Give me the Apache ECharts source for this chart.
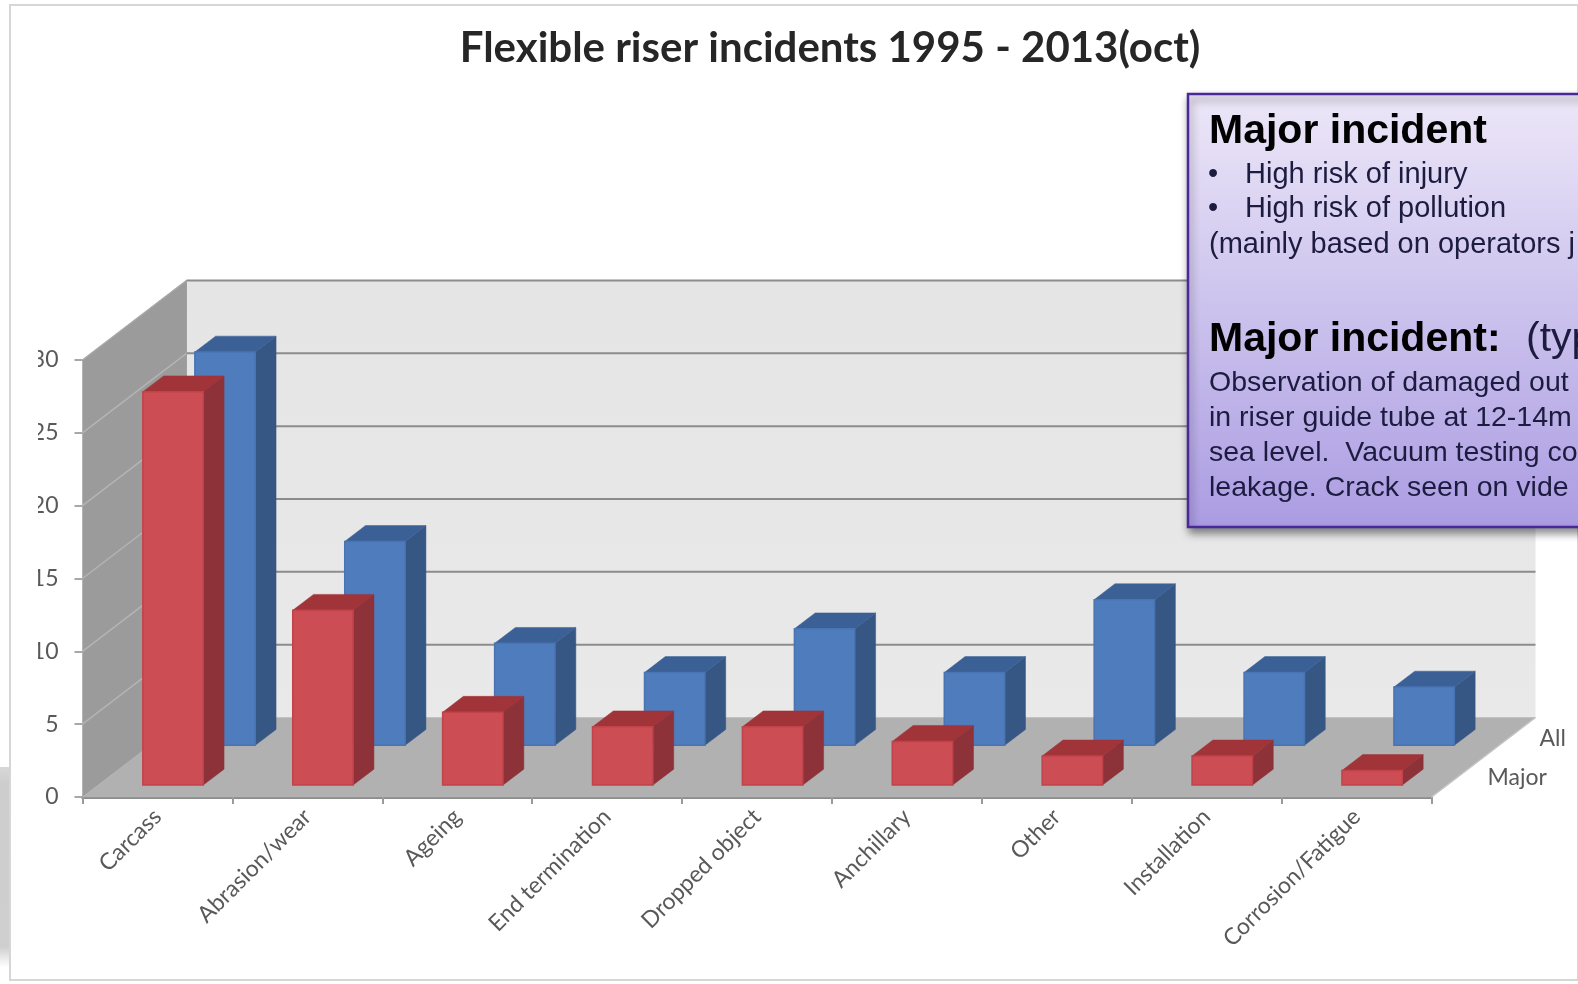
<!DOCTYPE html>
<html>
<head>
<meta charset="utf-8">
<style>html,body{margin:0;padding:0;background:#fff;overflow:hidden}#chart{width:1578px;height:984px}</style>
<script src="https://cdn.jsdelivr.net/npm/echarts@6/dist/echarts.min.js"></script>
</head>
<body>
<div id="chart"></div>
<script>
// Incident counts per failure mode
const categories = ['Carcass','Abrasion/wear','Ageing','End termination','Dropped object','Anchillary','Other','Installation','Corrosion/Fatigue'];
const allIncidents = [27,14,7,5,8,5,10,5,4];
const majorIncidents = [27,12,5,4,4,3,2,2,1];
const depthNames = ['Major','All'];
const valueTicks = [5,10,15,20,25];
const valueMax = 30;

// Oblique projection of the depth axis, in pixels for the whole floor
const DEPTH_X = 104, DEPTH_Y = -79.5;
const ROWS = 2, BAR_W = 0.403, BAR_D = 0.4;
const SANS = '"Liberation Sans", Arial, sans-serif';
const GRID_LINE = '#8c8c8c';

const REGION = {left:82.5, top:360, width:1349, height:437};

function poly(points, fill, stroke){
  return {type:'polygon', shape:{points}, style:{fill, stroke:stroke||fill, lineWidth:stroke?1:0.5}};
}
function line(a, b, stroke, w){
  return {type:'line', shape:{x1:a[0],y1:a[1],x2:b[0],y2:b[1]}, style:{stroke, lineWidth:w}};
}

// Walls, floor and the gridlines that run across them
function renderBox(params, api){
  const band = api.size([1,0])[0];
  const first = api.coord([0,0]);
  const last = api.coord([categories.length-1,0]);
  const x0 = first[0]-band/2, x1 = last[0]+band/2, y0 = first[1];
  const yT = api.coord([0,valueMax])[1];
  const kids = [
    {type:'polygon', shape:{points:[[x0+DEPTH_X,yT+DEPTH_Y],[x1+DEPTH_X,yT+DEPTH_Y],[x1+DEPTH_X,y0+DEPTH_Y],[x0+DEPTH_X,y0+DEPTH_Y]]},
      style:{fill:{type:'linear',x:0,y:0,x2:0,y2:1,colorStops:[{offset:0,color:'#e5e5e5'},{offset:1,color:'#e9e9e9'}]}}},
    poly([[x0,yT],[x0+DEPTH_X,yT+DEPTH_Y],[x0+DEPTH_X,y0+DEPTH_Y],[x0,y0]], '#9b9b9b'),
    poly([[x0,y0],[x0+DEPTH_X,y0+DEPTH_Y],[x1+DEPTH_X,y0+DEPTH_Y],[x1,y0]], '#b1b1b1')
  ];
  valueTicks.concat([valueMax]).forEach(v=>{
    const y = api.coord([0,v])[1];
    if (v < valueMax) kids.push(line([x0,y],[x0+DEPTH_X,y+DEPTH_Y],'#b4b4b4',1.5));
    kids.push(line([x0+DEPTH_X,y+DEPTH_Y],[x1+DEPTH_X,y+DEPTH_Y],GRID_LINE,2));
  });
  kids.push(line([x0,yT],[x0+DEPTH_X,yT+DEPTH_Y],'#a8a8a8',1.5));
  kids.push(line([x0+DEPTH_X,yT+DEPTH_Y],[x0+DEPTH_X,y0+DEPTH_Y],'#a0a0a0',1));
  kids.push(line([x1,y0],[x1+DEPTH_X,y0+DEPTH_Y],'#c4c4c4',1.5));
  return {type:'group', children:kids};
}

// One box: front, side and top faces, placed on its depth row
function barRenderer(row, colors){
  return function(params, api){
    const idx = api.value(0), val = api.value(1);
    const band = api.size([1,0])[0];
    const base = api.coord([idx,0]), top = api.coord([idx,val]);
    const stepX = DEPTH_X/ROWS, stepY = DEPTH_Y/ROWS;
    const ox = stepX*(row+(1-BAR_D)/2), oy = stepY*(row+(1-BAR_D)/2);
    const dx = stepX*BAR_D, dy = stepY*BAR_D;
    const w = band*BAR_W;
    const l = base[0]-w/2+ox, r = l+w, b = base[1]+oy, t = top[1]+oy;
    return {type:'group', children:[
      poly([[r,b],[r+dx,b+dy],[r+dx,t+dy],[r,t]], colors.side),
      poly([[l,t],[r,t],[r+dx,t+dy],[l+dx,t+dy]], colors.top),
      {type:'rect', shape:{x:l,y:t,width:w,height:b-t},
        style:{fill:colors.front, stroke:colors.edge, lineWidth:1.5}}
    ]};
  };
}

// Names along the depth axis, right of the floor
function renderDepthLabel(params, api){
  const row = api.value(0);
  const band = api.size([1,0])[0];
  const end = api.coord([categories.length-1,0]);
  const x = end[0]+band/2+56+row*DEPTH_X/ROWS, y = end[1]-19+row*DEPTH_Y/ROWS;
  return {type:'text', x, y, style:{text:depthNames[row], fill:'#595959', font:'23px Lato', textAlign:'left', textVerticalAlign:'middle'}};
}

// Callout panel text, one entry per drawn run
const panelRuns = [
  {t:'Major incident', x:1209, b:146, s:41, w:'bold'},
  {t:'•', x:1208, b:185, s:29},
  {t:'High risk of injury', x:1245, b:185, s:29},
  {t:'•', x:1208, b:219, s:29},
  {t:'High risk of pollution', x:1245, b:219, s:29},
  {t:'(mainly based on operators j', x:1209, b:255, s:29},
  {t:'Major incident:', x:1209, b:354, s:41, w:'bold'},
  {t:'(typ', x:1526, b:354, s:41},
  {t:'Observation of damaged out', x:1209, b:393, s:28.5},
  {t:'in riser guide tube at 12-14m', x:1209, b:428, s:28.5},
  {t:'sea level.  Vacuum testing co', x:1209, b:463, s:28.5},
  {t:'leakage. Crack seen on vide', x:1209, b:498, s:28.5}
];

const chart = echarts.init(document.getElementById('chart'), null, {renderer:'canvas'});
chart.setOption({
  animation:false,
  backgroundColor:'#fff',
  title:{text:'Flexible riser incidents 1995 - 2013(oct)', left:825, top:22, textAlign:'center',
    textStyle:{fontFamily:'Lato', fontWeight:'bold', fontSize:42, color:'#262626'}},
  grid:REGION,
  xAxis:{type:'category', data:categories, boundaryGap:true,
    axisLine:{lineStyle:{color:GRID_LINE, width:3}},
    axisTick:{show:true, length:7, alignWithLabel:false, lineStyle:{color:'#9a9a9a', width:2}},
    axisLabel:{rotate:45, interval:0, margin:16, color:'#595959', fontFamily:'Lato', fontSize:23},
    splitLine:{show:false}},
  yAxis:{type:'value', min:0, max:valueMax, interval:5,
    axisLine:{show:false},
    axisTick:{show:true, length:8, lineStyle:{color:'#a8a8a8', width:2}},
    axisLabel:{margin:24, color:'#595959', fontFamily:'Lato', fontSize:23},
    splitLine:{show:false}},
  series:[
    {type:'custom', name:'box', renderItem:renderBox, data:[[0,0]], encode:{x:0,y:1}, silent:true, clip:false, z:1},
    {type:'custom', name:'All', renderItem:barRenderer(1,{front:'#4f7cbc',edge:'#4874b2',side:'#365784',top:'#3b6096'}),
      data:allIncidents.map((v,i)=>[i,v]), encode:{x:0,y:1}, clip:false, z:2},
    {type:'custom', name:'Major', renderItem:barRenderer(0,{front:'#cd4d55',edge:'#c2424a',side:'#8c3238',top:'#a03439'}),
      data:majorIncidents.map((v,i)=>[i,v]), encode:{x:0,y:1}, clip:false, z:3},
    {type:'custom', name:'depth', renderItem:renderDepthLabel, data:depthNames.map((n,i)=>[i,0]), encode:{x:0,y:1}, silent:true, clip:false, z:4}
  ],
  graphic:{elements:[
    // page frame and the grey strip at the lower left
    {type:'rect', z:50, shape:{x:0,y:767,width:10,height:200},
      style:{fill:{type:'linear',x:0,y:0,x2:0,y2:1,colorStops:[{offset:0,color:'#d8d8d8'},{offset:0.08,color:'#cdcdcd'},{offset:0.9,color:'#cfcfcf'},{offset:1,color:'#ffffff'}]}}},
    {type:'rect', z:51, shape:{x:10,y:5,width:1568,height:975},
      style:{fill:'transparent', stroke:'#d6d6d6', lineWidth:2}},
    // the tens digits run under the frame's inner margin
    {type:'rect', z:52, shape:{x:12,y:340,width:26,height:340}, style:{fill:'#fff'}},
    // callout panel
    {type:'rect', z:60, shape:{x:1188,y:94,width:400,height:433},
      style:{fill:{type:'linear',x:0,y:0,x2:0,y2:1,colorStops:[{offset:0,color:'#ede7f8'},{offset:0.45,color:'#cfc6ee'},{offset:1,color:'#ab9ce2'}]},
        stroke:'#48289a', lineWidth:2.5, shadowColor:'rgba(0,0,0,0.45)', shadowBlur:8, shadowOffsetX:2, shadowOffsetY:5}}
  ].concat(panelRuns.map(r=>({
    type:'text', z:61, x:r.x, y:r.b-r.s*0.35,
    style:{text:r.t, fill:r.w?'#000':'#1c1c40', font:(r.w?r.w+' ':'')+r.s+'px '+SANS, textAlign:'left', textVerticalAlign:'middle'}
  })))}
});
</script>
</body>
</html>
